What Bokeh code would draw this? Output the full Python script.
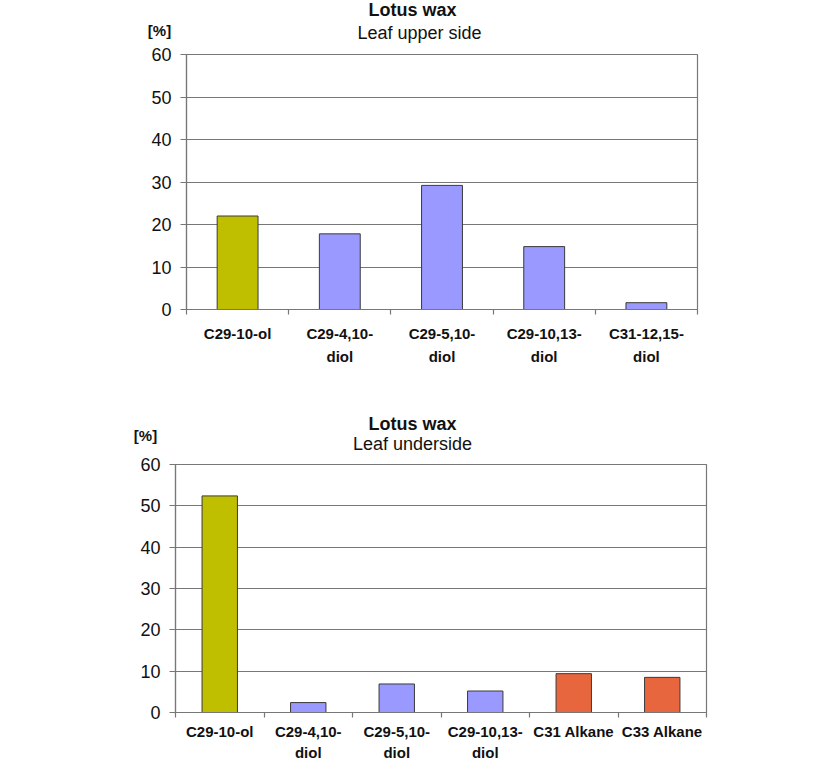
from bokeh.plotting import figure
from bokeh.models import Range1d, FactorRange, LinearAxis, FixedTicker, Label
from bokeh.layouts import column
from bokeh.embed import file_html
from bokeh.resources import INLINE

# ---- data ----
title_text = "Lotus wax"
upper_subtitle = "Leaf upper side"
under_subtitle = "Leaf underside"
unit_label = "[%]"

upper_cats = ["C29-10-ol", "C29-4,10-\ndiol", "C29-5,10-\ndiol", "C29-10,13-\ndiol", "C31-12,15-\ndiol"]
upper_vals = [22.0, 17.8, 29.2, 14.8, 1.6]
upper_groups = ["ol", "diol", "diol", "diol", "diol"]

under_cats = ["C29-10-ol", "C29-4,10-\ndiol", "C29-5,10-\ndiol", "C29-10,13-\ndiol", "C31 Alkane", "C33 Alkane"]
under_vals = [52.4, 2.4, 6.9, 5.2, 9.4, 8.5]
under_groups = ["ol", "diol", "diol", "diol", "alkane", "alkane"]

y_ticks = [0, 10, 20, 30, 40, 50, 60]
group_colors = {"ol": "#BFBF00", "diol": "#9999FF", "alkane": "#E8663D"}

FONT = "Liberation Sans"
GRID = "#777777"
TXT = "#111111"


def text_label(dx, dy, text, size, bold=False):
    # positioned relative to the top-left corner of the plot frame (x=0, y=60)
    return Label(x=0, y=60, x_offset=dx, y_offset=dy, text=text,
                 text_align="center", text_baseline="alphabetic", text_font=FONT,
                 text_font_size=size, text_font_style="bold" if bold else "normal",
                 text_color=TXT)


def make_chart(cats, vals, groups, subtitle, width, height, left, right, top, bottom,
               title_pos, sub_pos, unit_pos, line_h, standoff):
    n = len(cats)
    p = figure(x_range=FactorRange(factors=cats), y_range=Range1d(0, 60),
               width=width, height=height, x_axis_type=None, title=None,
               output_backend="svg", toolbar_location=None,
               min_border_left=left, min_border_right=right,
               min_border_top=top, min_border_bottom=bottom)
    if "frame_align" in p.properties():
        p.frame_align = False
    p.background_fill_color = "white"
    p.border_fill_color = "white"
    p.outline_line_color = GRID
    p.outline_line_width = 1.2

    colors = [group_colors[g] for g in groups]
    p.vbar(x=cats, top=vals, width=0.4, fill_color=colors,
           line_color="#3a3a3a", line_width=1)

    # x axis: labels at category centres, ticks at category boundaries
    centers = [i + 0.5 for i in range(n)]
    bounds = [float(i) for i in range(n + 1)]
    xaxis = LinearAxis(ticker=FixedTicker(ticks=centers, minor_ticks=bounds))
    xaxis.major_label_overrides = {c: lab for c, lab in zip(centers, cats)}
    xaxis.major_tick_line_color = None
    xaxis.major_tick_out = 5
    xaxis.major_tick_in = 0
    xaxis.minor_tick_out = 5
    xaxis.minor_tick_in = 0
    xaxis.minor_tick_line_color = GRID
    xaxis.minor_tick_line_width = 1.2
    xaxis.axis_line_color = GRID
    xaxis.axis_line_width = 1.2
    xaxis.major_label_text_font = FONT
    xaxis.major_label_text_font_style = "bold"
    xaxis.major_label_text_font_size = "15px"
    xaxis.major_label_text_color = TXT
    xaxis.major_label_standoff = standoff
    xaxis.major_label_text_line_height = line_h
    p.add_layout(xaxis, "below")

    # y axis
    p.yaxis.ticker = FixedTicker(ticks=y_ticks)
    p.yaxis.axis_line_color = GRID
    p.yaxis.axis_line_width = 1.2
    p.yaxis.major_tick_line_color = GRID
    p.yaxis.major_tick_line_width = 1.2
    p.yaxis.major_tick_out = 6
    p.yaxis.major_tick_in = 0
    p.yaxis.minor_tick_line_color = None
    p.yaxis.major_label_text_font = FONT
    p.yaxis.major_label_text_font_size = "18px"
    p.yaxis.major_label_text_color = TXT
    p.yaxis.major_label_standoff = 9

    p.ygrid.ticker = FixedTicker(ticks=y_ticks)
    p.ygrid.grid_line_color = GRID
    p.ygrid.grid_line_width = 1.2

    # texts outside the frame live in side panels (not clipped there)
    p.add_layout(text_label(*unit_pos, unit_label, "15px", bold=True), "left")
    p.add_layout(text_label(*title_pos, title_text, "18px", bold=True), "left")
    p.add_layout(text_label(*sub_pos, subtitle, "18px"), "right")
    return p


p1 = make_chart(upper_cats, upper_vals, upper_groups, upper_subtitle,
                width=840, height=390, left=186, right=143, top=54, bottom=81,
                title_pos=(226, 45), sub_pos=(233, 22), unit_pos=(-27, 24),
                line_h=1.4, standoff=10)
p2 = make_chart(under_cats, under_vals, under_groups, under_subtitle,
                width=840, height=373, left=175, right=134, top=74, bottom=50,
                title_pos=(237, 41), sub_pos=(237, 21), unit_pos=(-30, 29),
                line_h=1.25, standoff=5)

layout = column(p1, p2, spacing=0)
open("out.html", "w").write(file_html(layout, INLINE))
